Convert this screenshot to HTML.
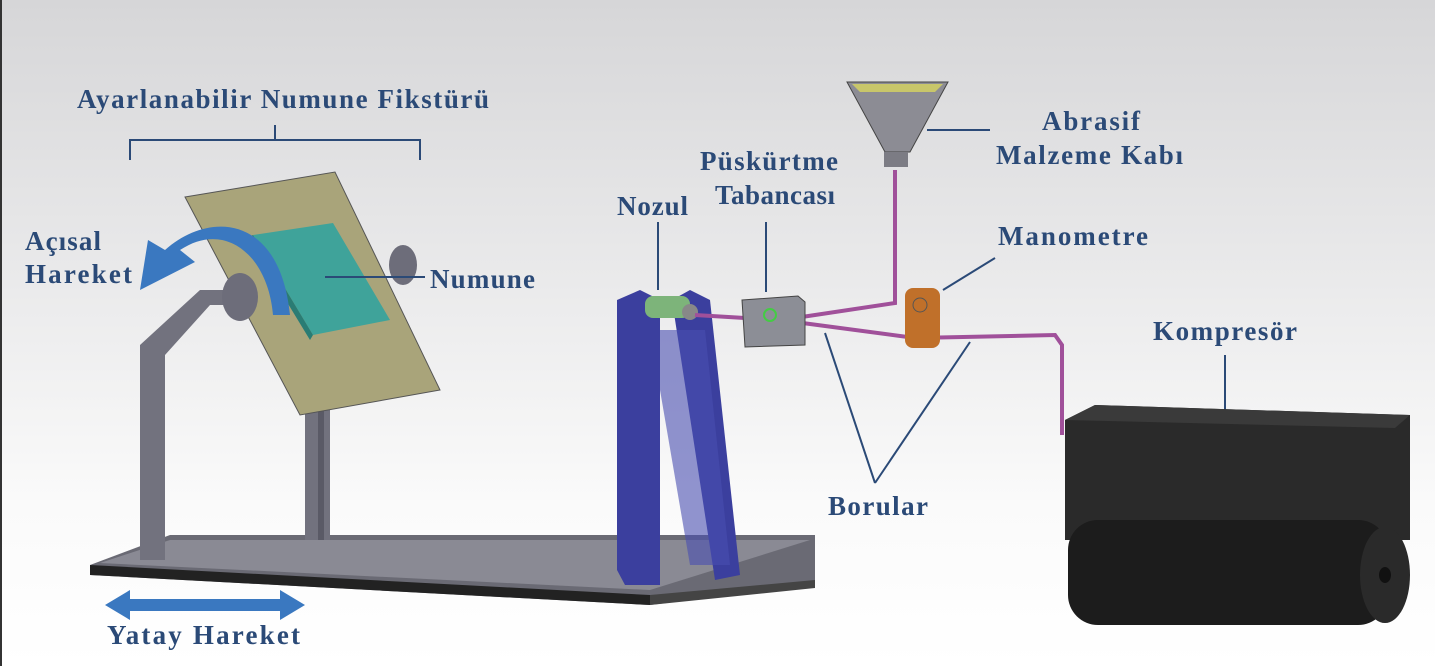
<!DOCTYPE html>
<html><head><meta charset="utf-8"><style>
html,body{margin:0;padding:0}
body{width:1435px;height:666px;overflow:hidden;background:linear-gradient(#d6d6d8 0%,#e9e9ea 40%,#fafafa 75%,#ffffff 100%)}
svg{display:block}
text{font-family:"Liberation Serif",serif;font-weight:bold;font-size:27px;fill:#2b4a77}
</style></head><body>
<svg width="1435" height="666" viewBox="0 0 1435 666" xmlns="http://www.w3.org/2000/svg">
<line x1="1" y1="0" x2="1" y2="666" stroke="#333" stroke-width="2"/>
<polygon points="90,565 170,535 815,535 815,585 650,605 90,575" fill="#6a6a74"/>
<polygon points="90,565 650,595 650,605 90,575" fill="#222"/>
<polygon points="650,595 815,580 815,588 650,605" fill="#444"/>
<polygon points="170,540 810,540 650,590 100,563" fill="#8a8a94"/>
<polygon points="140,345 200,290 240,290 240,305 210,305 165,355 165,560 140,560" fill="#72727e"/>
<rect x="305" y="340" width="25" height="200" fill="#72727e"/>
<rect x="318" y="340" width="6" height="200" fill="#5a5a66"/>
<polygon points="185,197 335,172 440,390 300,415" fill="#a9a47a" stroke="#555" stroke-width="1"/>
<polygon points="253,235 333,223 390,320 313,335" fill="#3fa39a"/>
<polygon points="253,235 313,335 310,340 248,238" fill="#2a7c74"/>
<ellipse cx="240" cy="297" rx="18" ry="24" fill="#6d6d7a"/>
<ellipse cx="403" cy="265" rx="14" ry="20" fill="#6d6d7a"/>
<path d="M273,315 C268,255 225,220 180,250 L195,262 L140,290 L148,240 L165,250 C210,210 280,215 290,315 Z" fill="#3a78c0"/>
<line x1="325" y1="277" x2="425" y2="277" stroke="#2b4a77" stroke-width="2"/>
<polygon points="105,605 130,590 130,599 280,599 280,590 305,605 280,620 280,611 130,611 130,620" fill="#3a78c0"/>
<polyline points="130,160 130,140 420,140 420,160" fill="none" stroke="#2b4a77" stroke-width="2"/>
<line x1="275" y1="125" x2="275" y2="140" stroke="#2b4a77" stroke-width="2"/>
<polygon points="617,300 640,290 660,300 660,585 625,585 617,570" fill="#3b3f9e"/>
<polygon points="672,300 690,290 710,300 740,575 715,580" fill="#3b3f9e"/>
<polygon points="660,330 705,330 730,565 690,565 660,390" fill="#4a4fb0" opacity="0.6"/>
<rect x="645" y="296" width="45" height="22" rx="8" fill="#7db47a"/>
<circle cx="690" cy="312" r="8" fill="#888"/>
<g stroke="#a0509a" stroke-width="4" fill="none">
<polyline points="695,315 745,318"/>
<polyline points="795,318 895,303 895,170"/>
<polyline points="795,322 915,338 1055,335 1062,345 1062,435"/>
</g>
<polygon points="742,300 798,296 805,302 805,345 745,347" fill="#8c8e96" stroke="#444"/>
<circle cx="770" cy="315" r="6" fill="none" stroke="#4c4" stroke-width="2"/>
<polygon points="847,82 948,82 910,152 885,152" fill="#8c8c94" stroke="#444"/>
<polygon points="852,84 943,84 935,92 860,92" fill="#c8c66a"/>
<rect x="884" y="152" width="24" height="15" fill="#7c7c84"/>
<rect x="905" y="288" width="35" height="60" rx="8" fill="#c0702a"/>
<circle cx="920" cy="305" r="7" fill="none" stroke="#555"/>
<g stroke="#2b4a77" stroke-width="2">
<line x1="658" y1="222" x2="658" y2="290"/>
<line x1="766" y1="222" x2="766" y2="292"/>
<line x1="927" y1="130" x2="990" y2="130"/>
<line x1="995" y1="258" x2="943" y2="290"/>
<line x1="825" y1="333" x2="875" y2="483"/>
<line x1="970" y1="342" x2="875" y2="483"/>
<line x1="1225" y1="355" x2="1225" y2="410"/>
</g>
<polygon points="1065,420 1095,405 1410,415 1410,540 1065,540" fill="#2a2a2a"/>
<polygon points="1065,420 1395,428 1410,415 1095,405" fill="#3a3a3a"/>
<rect x="1068" y="520" width="320" height="105" rx="30" fill="#1c1c1c"/>
<ellipse cx="1385" cy="575" rx="25" ry="48" fill="#2a2a2a"/>
<ellipse cx="1385" cy="575" rx="6" ry="8" fill="#111"/>
<text x="77" y="108" textLength="412">Ayarlanabilir Numune Fikstürü</text>
<text x="25" y="250" textLength="76">Açısal</text>
<text x="25" y="283" textLength="107">Hareket</text>
<text x="430" y="288" textLength="105">Numune</text>
<text x="107" y="644" textLength="193">Yatay Hareket</text>
<text x="617" y="215" textLength="71">Nozul</text>
<text x="700" y="170" textLength="138">Püskürtme</text>
<text x="715" y="204" textLength="120">Tabancası</text>
<text x="1042" y="130" textLength="98">Abrasif</text>
<text x="996" y="164" textLength="187">Malzeme Kabı</text>
<text x="998" y="245" textLength="150">Manometre</text>
<text x="1153" y="340" textLength="144">Kompresör</text>
<text x="828" y="515" textLength="100">Borular</text>
</svg>
</body></html>
